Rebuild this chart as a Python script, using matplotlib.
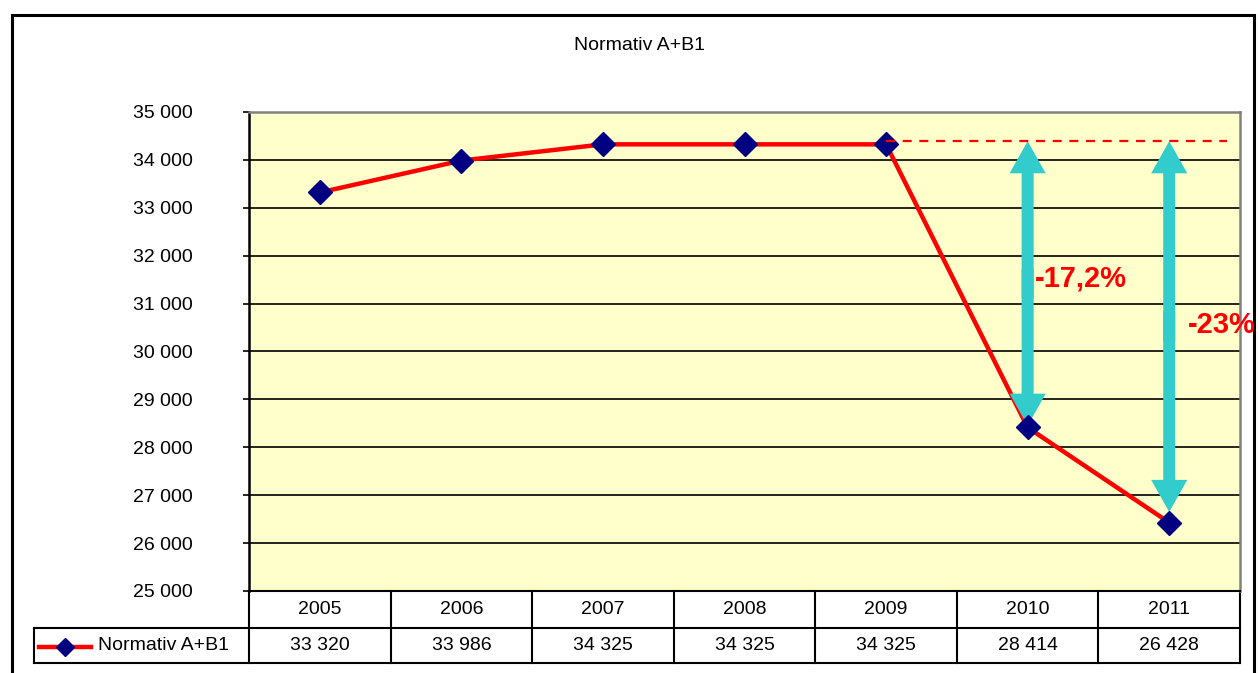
import matplotlib
matplotlib.use("Agg")
import matplotlib.pyplot as plt
from matplotlib.lines import Line2D
from matplotlib.patches import Rectangle
from matplotlib.transforms import blended_transform_factory

plt.rcParams['font.family'] = ['Liberation Sans', 'DejaVu Sans']
plt.rcParams['lines.scale_dashes'] = False

title = 'Normativ A+B1'
series_name = 'Normativ A+B1'
years = ['2005', '2006', '2007', '2008', '2009', '2010', '2011']
values = [33320, 33986, 34325, 34325, 34325, 28414, 26428]

# annotation of the drop after 2009
ref_level = 34390
arrow_idx = [5, 6]
arrow_ends = [28450, 26650]
drop_labels = ['-17,2%', '-23%']
label_pos = [(5.05, 31530), (6.13, 30550)]

W, H = 1258, 673
def fx(px):
    return px / W
def fy(py):
    return 1 - py / H

fig = plt.figure(figsize=(W / 100, H / 100), dpi=100)
ax = fig.add_axes([fx(249), fy(591), fx(1240) - fx(249), fy(112) - fy(591)])
ax.set_facecolor('#FFFFCC')

x = list(range(len(years)))
ax.plot(x, values, color='red', lw=3.2, zorder=3)

# dashed reference line from 2009 level
ax.plot([4, 6.41], [ref_level, ref_level], color='red', lw=1.6,
        dashes=(6.5, 5.5), zorder=6)

# double arrows (two halves overlapping in the middle)
for i, end in zip(arrow_idx, arrow_ends):
    mid = (ref_level + end) / 2
    for a, b in ((mid - 300, ref_level), (mid + 300, end)):
        ax.arrow(i, a, 0, b - a, width=0.085, head_width=0.255,
                 head_length=670, length_includes_head=True,
                 color='#33CCCC', lw=0, zorder=4)

ax.plot(x, values, ls='none', marker='D', ms=12.5, color='#000080', zorder=5)

for s, (lx, ly) in zip(drop_labels, label_pos):
    ax.text(lx, ly, s, color='red', fontsize=21, fontweight='bold',
            ha='left', va='center', zorder=7, clip_on=False)

ax.set_xlim(-0.5, 6.5)
ax.set_ylim(25000, 35000)
ax.set_xticks([])
yt = list(range(25000, 35001, 1000))
ax.set_yticks(yt)
ax.set_yticklabels([f'{v:,}'.replace(',', ' ') for v in yt], fontsize=14)
ax.tick_params(axis='y', length=4.5, width=1.2, pad=36)
ax.yaxis.grid(True, color='black', lw=1.2)
ax.set_axisbelow(True)
for side in ('top', 'right'):
    ax.spines[side].set_color('#808080')
    ax.spines[side].set_linewidth(1.8)
ax.spines['left'].set_linewidth(1.8)
ax.spines['bottom'].set_linewidth(1.5)

# data table under the plot
bt = blended_transform_factory(ax.transData, fig.transFigure)
row_top, row_mid, row_bot = 591, 628, 663
for yy in (row_mid, row_bot):
    fig.add_artist(Line2D([fx(34), fx(1240)], [fy(yy), fy(yy)], color='black', lw=1.5))
for k in range(len(years) + 1):
    ax.add_artist(Line2D([k - 0.5, k - 0.5], [fy(row_top), fy(row_bot)],
                         transform=bt, color='black', lw=1.5, clip_on=False))
fig.add_artist(Line2D([fx(34), fx(34)], [fy(row_mid), fy(row_bot)], color='black', lw=1.5))

for i, (yr, v) in enumerate(zip(years, values)):
    ax.text(i, fy((row_top + row_mid) / 2), yr, transform=bt, ha='center',
            va='center', fontsize=14)
    ax.text(i, fy((row_mid + row_bot) / 2), f'{v:,}'.replace(',', ' '),
            transform=bt, ha='center', va='center', fontsize=14)

ly = fy((row_mid + row_bot) / 2 + 1)
fig.add_artist(Line2D([fx(39), fx(91)], [ly, ly], color='red', lw=3.2))
fig.add_artist(Line2D([fx(65)], [ly], marker='D', ms=9, color='#000080', ls='none'))
fig.text(fx(98), fy((row_mid + row_bot) / 2), series_name, ha='left', va='center',
         fontsize=14)

fig.text(fx(640), fy(45), title, ha='center', va='center', fontsize=14)

# outer chart frame, behind the axes so the label can run over it
fig.add_artist(Rectangle((fx(12), fy(700)), fx(1254) - fx(12), fy(15) - fy(700),
                         transform=fig.transFigure, fill=False, lw=2.2,
                         edgecolor='black', zorder=-1))

fig.savefig('out.png', dpi=100)
